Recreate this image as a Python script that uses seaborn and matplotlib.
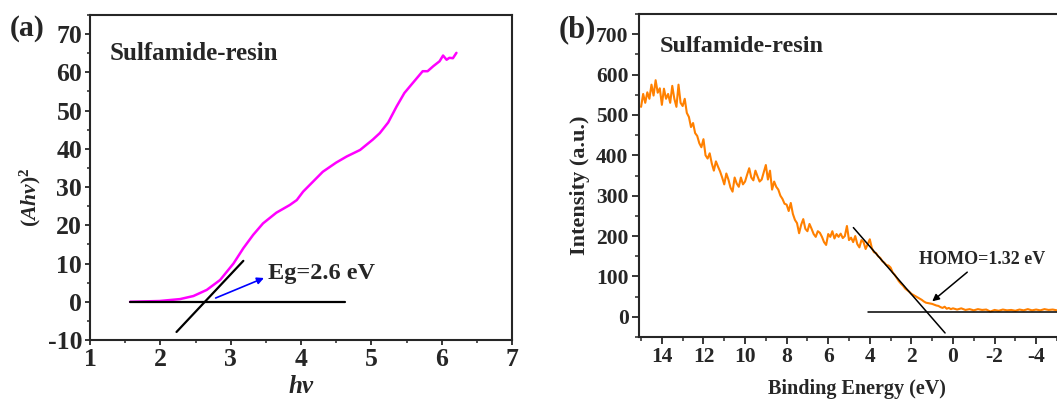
import matplotlib
matplotlib.use("Agg")
import matplotlib.pyplot as plt
import seaborn as sns
import numpy as np
import pandas as pd
from matplotlib.ticker import MultipleLocator

# ---------------- data: panel (a) ----------------
hv = [1.57, 1.99, 2.28, 2.47, 2.66, 2.85, 3.04, 3.18, 3.32, 3.46, 3.65, 3.84,
      3.94, 4.03, 4.17, 4.31, 4.50, 4.65, 4.84, 5.02, 5.12, 5.24, 5.36, 5.47,
      5.57, 5.73, 5.80, 5.88, 5.97, 6.02, 6.07, 6.11, 6.16, 6.21]
ahv2 = [0.0, 0.2, 0.7, 1.5, 3.1, 5.7, 10.0, 14.0, 17.5, 20.5, 23.3, 25.3,
        26.6, 28.8, 31.4, 34.0, 36.4, 38.0, 39.7, 42.4, 44.1, 46.9, 51.1, 54.6,
        56.8, 60.3, 60.3, 61.6, 62.9, 64.4, 63.3, 63.8, 63.7, 65.1]
tangent_a_x = [2.23, 3.18]
tangent_a_y = [-7.9, 10.7]
base_a_x = [1.57, 4.62]
base_a_y = [0.0, 0.0]

# ---------------- data: panel (b) ----------------
# binding energy grid: 15.0 -> 0.0 in 0.1 eV steps, then 0.0 -> -5.0 in 0.2 eV
be_hi = list(np.round(np.arange(15.0, -0.05, -0.1), 2))
be_lo = list(np.round(np.arange(-0.2, -5.05, -0.2), 2))
intensity_hi = [
    520, 552, 530, 556, 540, 575, 548, 586, 555, 566,   # 15.0 - 14.1
    525, 565, 540, 552, 530, 572, 540, 520, 575, 530,   # 14.0 - 13.1
    522, 540, 505, 495, 470, 480, 455, 448, 430, 420,   # 13.0 - 12.1
    440, 400, 392, 405, 380, 362, 385, 372, 360, 345,   # 12.0 - 11.1
    328, 355, 340, 320, 310, 345, 330, 322, 345, 328,   # 11.0 - 10.1
    335, 352, 368, 345, 338, 362, 348, 335, 340, 358,   # 10.0 - 9.1
    376, 340, 362, 315, 335, 322, 315, 300, 292, 280,   # 9.0 - 8.1
    278, 262, 282, 255, 240, 232, 207, 228, 242, 218,   # 8.0 - 7.1
    212, 230, 218, 205, 198, 212, 208, 198, 185, 178,   # 7.0 - 6.1
    205, 198, 212, 194, 205, 198, 206, 195, 200, 225,   # 6.0 - 5.1
    190, 196, 185, 200, 180, 172, 190, 185, 168, 180,   # 5.0 - 4.1
    192, 170, 160, 158, 150, 146, 138, 134, 128, 127,   # 4.0 - 3.1
    122, 110, 104, 96, 88, 82, 77, 70, 66, 62,          # 3.0 - 2.1
    57, 54, 51, 48, 45, 42, 38, 35, 34, 33,             # 2.0 - 1.1
    32, 30, 28, 27, 24, 22, 25, 20, 22, 19,             # 1.0 - 0.1
    21]                                                 # 0.0
intensity_lo = [18, 21, 17, 19, 16, 19, 17, 18, 13, 17,  # -0.2 - -2.0
                15, 18, 16, 17, 15, 18, 16, 19, 16, 18,  # -2.2 - -4.0
                16, 19, 17, 18, 16]                      # -4.2 - -5.0
be = be_hi + be_lo
intensity = intensity_hi + intensity_lo
tangent_b_x = [4.79, 0.38]
tangent_b_y = [221, -40]
base_b_x = [4.07, -5.2]
base_b_y = [11, 11]

df_a = pd.DataFrame({"hv": hv, "val": ahv2})
df_b = pd.DataFrame({"be": be, "val": intensity})

sns.set_style("ticks")
plt.rcParams["font.family"] = ["Liberation Serif", "DejaVu Serif"]
plt.rcParams["font.weight"] = "bold"
plt.rcParams["axes.labelweight"] = "bold"
plt.rcParams["axes.unicode_minus"] = False
plt.rcParams["mathtext.fontset"] = "custom"
plt.rcParams["mathtext.rm"] = "Liberation Serif:bold"
plt.rcParams["mathtext.it"] = "Liberation Serif:italic:bold"
plt.rcParams["mathtext.bf"] = "Liberation Serif:bold"

W, H = 1057, 403
fig = plt.figure(figsize=(W / 100, H / 100), dpi=100)

def box(l, t, r, b):
    return [l / W, 1 - b / H, (r - l) / W, (b - t) / H]

# ---------------- panel (a) ----------------
ax1 = fig.add_axes(box(90, 15, 512, 340))
sns.lineplot(data=df_a, x="hv", y="val", ax=ax1, color="#ff00ff", lw=1.8)
ax1.plot(tangent_a_x, tangent_a_y, color="black", lw=1.6)
ax1.plot(base_a_x, base_a_y, color="black", lw=1.6)
ax1.annotate("", xy=(3.51, 6.5), xytext=(2.75, 0.7),
             arrowprops=dict(arrowstyle="-|>", color="#0000ff", lw=1.2,
                             mutation_scale=10))
ax1.text(3.53, 7.4, "Eg=2.6 eV", fontsize=17.5, fontweight="bold",
         va="center", ha="left")
ax1.set_xlim(1, 7)
ax1.set_ylim(-10, 75)
ax1.xaxis.set_major_locator(MultipleLocator(1))
ax1.xaxis.set_minor_locator(MultipleLocator(0.5))
ax1.set_yticks(range(-10, 80, 10))
ax1.yaxis.set_minor_locator(MultipleLocator(5))
ax1.set_xlabel(r"$hv$", fontsize=18)
ax1.set_ylabel(r"$(Ahv)^2$", fontsize=15.5)
ax1.xaxis.set_label_coords(0.502, -0.108)
ax1.yaxis.set_label_coords(-0.111, 0.44)
ax1.tick_params(axis="both", which="major", direction="out", length=3.6,
                width=1.3, labelsize=18.5, pad=2)
ax1.tick_params(axis="both", which="minor", direction="out", length=2.2,
                width=1.1)
for s in ax1.spines.values():
    s.set_linewidth(1.5)
    s.set_visible(True)
ax1.text(0.047, 0.883, "Sulfamide-resin", transform=ax1.transAxes,
         fontsize=18, fontweight="bold", va="center", ha="left")
fig.text(10 / W, 1 - 28 / H, "(a)", fontsize=21.5, fontweight="bold",
         va="center", ha="left")

# ---------------- panel (b) ----------------
ax2 = fig.add_axes(box(639, 14, 1059, 337))
sns.lineplot(data=df_b, x="be", y="val", ax=ax2, color="#ff8000", lw=1.5,
             sort=False)
ax2.plot(tangent_b_x, tangent_b_y, color="black", lw=1.1)
ax2.plot(base_b_x, base_b_y, color="black", lw=1.1)
ax2.annotate("", xy=(1.10, 34), xytext=(-0.79, 115),
             arrowprops=dict(arrowstyle="-|>", color="black", lw=1.1,
                             mutation_scale=10))
ax2.text(1.62, 143, "HOMO=1.32 eV", fontsize=13, fontweight="bold",
         va="center", ha="left")
ax2.set_xlim(15.1, -5.1)
ax2.set_ylim(-50, 750)
ax2.xaxis.set_major_locator(MultipleLocator(2))
ax2.xaxis.set_minor_locator(MultipleLocator(1))
ax2.set_yticks(range(0, 800, 100))
ax2.yaxis.set_minor_locator(MultipleLocator(50))
ax2.set_xlabel("Binding Energy (eV)", fontsize=14.5)
ax2.set_ylabel("Intensity (a.u.)", fontsize=16)
ax2.xaxis.set_label_coords(0.52, -0.13)
ax2.yaxis.set_label_coords(-0.117, 0.47)
ax2.tick_params(axis="both", which="major", direction="out", length=5,
                width=1.3, labelsize=15.5, pad=2.5)
ax2.tick_params(axis="both", which="minor", direction="out", length=3,
                width=1.1)
for s in ax2.spines.values():
    s.set_linewidth(1.5)
    s.set_visible(True)
ax2.text(0.05, 0.899, "Sulfamide-resin", transform=ax2.transAxes,
         fontsize=17.5, fontweight="bold", va="center", ha="left")
fig.text(559 / W, 1 - 30 / H, "(b)", fontsize=22, fontweight="bold",
         va="center", ha="left")

fig.savefig("out.png", dpi=100)
